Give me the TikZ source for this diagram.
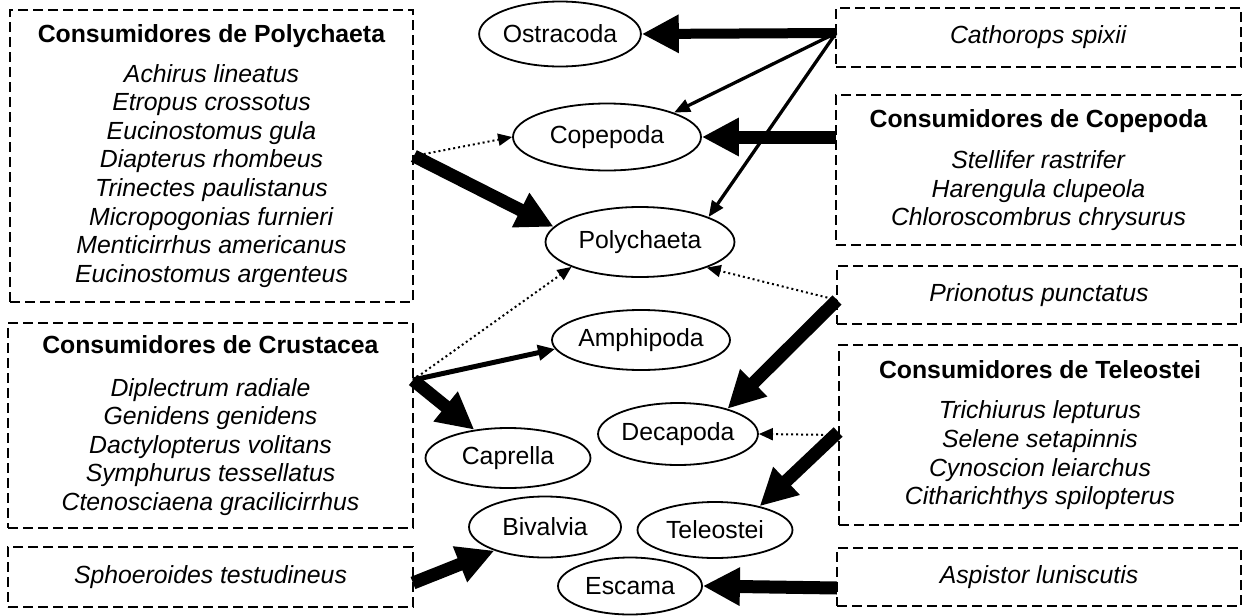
\documentclass[tikz,border=0pt]{standalone}
\usepackage{fontspec}
\setmainfont{Liberation Sans}
\usetikzlibrary{arrows.meta,shapes.geometric}
\begin{document}
\begin{tikzpicture}[x=1pt,y=-1pt,
  every node/.style={font=\fontsize{24.8}{28.6}\selectfont},
  box/.style={draw, line width=1.8pt, dash pattern=on 10pt off 5pt, inner sep=0pt, align=center},
  taxon/.style={draw, ellipse, line width=1.8pt, inner sep=0pt},
  heavy/.style={line width=13pt, -{Triangle[length=37pt,width=36pt]}},
  light/.style={line width=3.3pt, -{Triangle[length=16pt,width=13pt]}},
  medium/.style={line width=5pt, -{Triangle[length=17pt,width=15pt]}},
  faint/.style={line width=2pt, dash pattern=on 2pt off 3pt, -{Triangle[length=14pt,width=12pt]}}]
\useasboundingbox (0,0) rectangle (1243,616);

% consumer groups
\node[box, minimum width=403pt, minimum height=292pt] (polybox) at (211.5,156) {%
  \textbf{Consumidores de Polychaeta}\\[11pt]
  \textit{Achirus lineatus}\\ \textit{Etropus crossotus}\\ \textit{Eucinostomus gula}\\
  \textit{Diapterus rhombeus}\\ \textit{Trinectes paulistanus}\\ \textit{Micropogonias furnieri}\\
  \textit{Menticirrhus americanus}\\ \textit{Eucinostomus argenteus}};
\node[box, minimum width=405pt, minimum height=205pt] (crusbox) at (210.5,425.5) {%
  \textbf{Consumidores de Crustacea}\\[14pt]
  \textit{Diplectrum radiale}\\ \textit{Genidens genidens}\\ \textit{Dactylopterus volitans}\\
  \textit{Symphurus tessellatus}\\ \textit{Ctenosciaena gracilicirrhus}};
\node[box, minimum width=405pt, minimum height=60pt] (sphbox) at (210.5,577) {\textit{Sphoeroides testudineus}};
\node[box, minimum width=405pt, minimum height=59pt] (cathbox) at (1038.5,37.5) {\textit{Cathorops spixii}};
\node[box, minimum width=405pt, minimum height=150pt] (copebox) at (1038.5,170) {%
  \textbf{Consumidores de Copepoda}\\[13pt]
  \textit{Stellifer rastrifer}\\ \textit{Harengula clupeola}\\ \textit{Chloroscombrus chrysurus}};
\node[box, minimum width=404pt, minimum height=58pt] (prionbox) at (1039,295) {\textit{Prionotus punctatus}};
\node[box, minimum width=402pt, minimum height=180pt] (telebox) at (1040,435) {%
  \textbf{Consumidores de Teleostei}\\[12pt]
  \textit{Trichiurus lepturus}\\ \textit{Selene setapinnis}\\ \textit{Cynoscion leiarchus}\\
  \textit{Citharichthys spilopterus}};
\node[box, minimum width=404pt, minimum height=58pt] (aspbox) at (1039,577) {\textit{Aspistor luniscutis}};

% prey items
\node[taxon, minimum width=158pt, minimum height=65pt] (ostr) at (560,34) {Ostracoda};
\node[taxon, minimum width=188pt, minimum height=67pt] (cope) at (607,137) {Copepoda};
\node[taxon, minimum width=189pt, minimum height=70pt] (poly) at (640,242) {Polychaeta};
\node[taxon, minimum width=178pt, minimum height=60pt] (amph) at (641,340) {Amphipoda};
\node[taxon, minimum width=158pt, minimum height=62pt] (deca) at (678,434) {Decapoda};
\node[taxon, minimum width=165pt, minimum height=60pt] (capr) at (508,458) {Caprella};
\node[taxon, minimum width=152pt, minimum height=61pt] (biv) at (545,527) {Bivalvia};
\node[taxon, minimum width=155pt, minimum height=56pt] (teleo) at (715,530) {Teleostei};
\node[taxon, minimum width=144pt, minimum height=57pt] (esc) at (630,586) {Escama};

% arrow origins on the consumer boxes
\coordinate (cs) at (836,33);
\coordinate (cp) at (836,137);
\coordinate (cr) at (413,380);
\coordinate (pr) at (837,300);
\coordinate (sp) at (413,583);
\coordinate (as) at (837,588);

% feeding links
\draw[heavy, line width=10pt] (cs) -- (ostr.east);
\draw[light] (cs) -- (cope.20);
\draw[light] (cs) -- (poly.20);
\draw[heavy] (cp) -- (cope.east);
\draw[faint] (polybox.east) -- (cope.west);
\draw[heavy] (polybox.east) -- (poly.170);
\draw[faint] (cr) -- (poly.200);
\draw[medium] (cr) -- (amph.186);
\draw[heavy] (cr) -- (capr.140);
\draw[faint] (pr) -- (poly.-21);
\draw[heavy] (pr) -- (deca.27);
\draw[faint] (telebox.west) -- (deca.east);
\draw[heavy] ([yshift=3pt]telebox.west) -- (teleo.28);
\draw[heavy] (sp) -- (biv.205);
\draw[heavy] (as) -- (esc.east);
\end{tikzpicture}
\end{document}
